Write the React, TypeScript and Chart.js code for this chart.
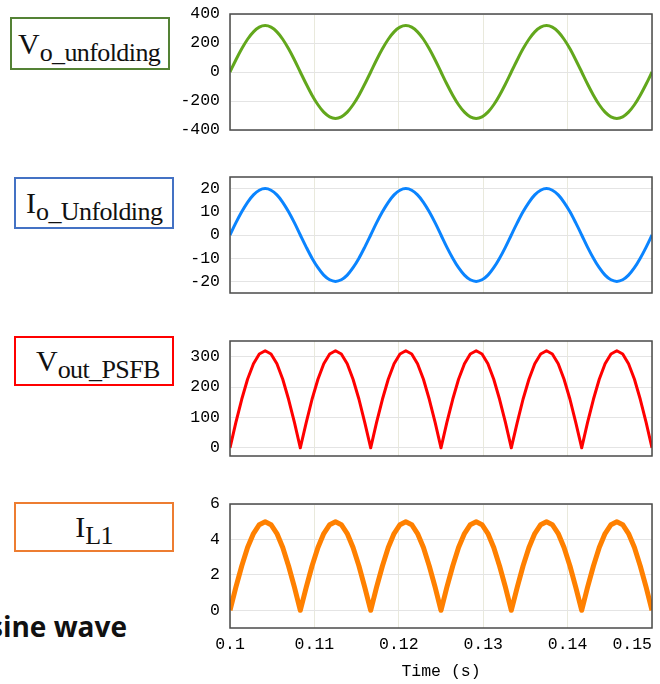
import React, { useEffect, useRef } from 'react';
import { Chart, registerables } from 'chart.js';

Chart.register(...registerables);

// ---------- data ----------
const TIME = [
  0.1, 0.10069, 0.10139, 0.10208, 0.10278, 0.10347, 0.10417, 0.10486, 0.10556, 0.10625, 0.10694, 0.10764,
  0.10833, 0.10903, 0.10972, 0.11042, 0.11111, 0.11181, 0.1125, 0.11319, 0.11389, 0.11458, 0.11528, 0.11597,
  0.11667, 0.11736, 0.11806, 0.11875, 0.11944, 0.12014, 0.12083, 0.12153, 0.12222, 0.12292, 0.12361, 0.12431,
  0.125, 0.12569, 0.12639, 0.12708, 0.12778, 0.12847, 0.12917, 0.12986, 0.13056, 0.13125, 0.13194, 0.13264,
  0.13333, 0.13403, 0.13472, 0.13542, 0.13611, 0.13681, 0.1375, 0.13819, 0.13889, 0.13958, 0.14028, 0.14097,
  0.14167, 0.14236, 0.14306, 0.14375, 0.14444, 0.14514, 0.14583, 0.14653, 0.14722, 0.14792, 0.14861, 0.14931,
  0.15,
];

const V_UNFOLDING = [
  0, 83, 160, 226, 277, 309, 320, 309, 277, 226, 160, 83, 0, -83, -160, -226, -277, -309, -320, -309, -277, -226, -160, -83,
  0, 83, 160, 226, 277, 309, 320, 309, 277, 226, 160, 83, 0, -83, -160, -226, -277, -309, -320, -309, -277, -226, -160, -83,
  0, 83, 160, 226, 277, 309, 320, 309, 277, 226, 160, 83, 0, -83, -160, -226, -277, -309, -320, -309, -277, -226, -160, -83,
  0,
];

const I_UNFOLDING = [
  0, 5.2, 10, 14.1, 17.3, 19.3, 20, 19.3, 17.3, 14.1, 10, 5.2, 0, -5.2, -10, -14.1, -17.3, -19.3, -20, -19.3, -17.3, -14.1, -10, -5.2,
  0, 5.2, 10, 14.1, 17.3, 19.3, 20, 19.3, 17.3, 14.1, 10, 5.2, 0, -5.2, -10, -14.1, -17.3, -19.3, -20, -19.3, -17.3, -14.1, -10, -5.2,
  0, 5.2, 10, 14.1, 17.3, 19.3, 20, 19.3, 17.3, 14.1, 10, 5.2, 0, -5.2, -10, -14.1, -17.3, -19.3, -20, -19.3, -17.3, -14.1, -10, -5.2,
  0,
];

const V_OUT_PSFB = [
  0, 83, 160, 226, 277, 309, 320, 309, 277, 226, 160, 83,
  0, 83, 160, 226, 277, 309, 320, 309, 277, 226, 160, 83,
  0, 83, 160, 226, 277, 309, 320, 309, 277, 226, 160, 83,
  0, 83, 160, 226, 277, 309, 320, 309, 277, 226, 160, 83,
  0, 83, 160, 226, 277, 309, 320, 309, 277, 226, 160, 83,
  0, 83, 160, 226, 277, 309, 320, 309, 277, 226, 160, 83,
  0,
];

const I_L1 = [
  0, 1.29, 2.5, 3.54, 4.33, 4.83, 5, 4.83, 4.33, 3.54, 2.5, 1.29,
  0, 1.29, 2.5, 3.54, 4.33, 4.83, 5, 4.83, 4.33, 3.54, 2.5, 1.29,
  0, 1.29, 2.5, 3.54, 4.33, 4.83, 5, 4.83, 4.33, 3.54, 2.5, 1.29,
  0, 1.29, 2.5, 3.54, 4.33, 4.83, 5, 4.83, 4.33, 3.54, 2.5, 1.29,
  0, 1.29, 2.5, 3.54, 4.33, 4.83, 5, 4.83, 4.33, 3.54, 2.5, 1.29,
  0, 1.29, 2.5, 3.54, 4.33, 4.83, 5, 4.83, 4.33, 3.54, 2.5, 1.29,
  0,
];

const X_TICKS = [0.1, 0.11, 0.12, 0.13, 0.14, 0.15];
const X_TICK_LABELS = ['0.1', '0.11', '0.12', '0.13', '0.14', '0.15'];
const X_TITLE = 'Time (s)';

const Y1_TICKS = [-400, -200, 0, 200, 400];
const Y2_TICKS = [-20, -10, 0, 10, 20];
const Y3_TICKS = [0, 100, 200, 300];
const Y4_TICKS = [0, 1, 2, 3, 4, 5, 6];
const Y4_LABELED = [0, 2, 4, 6];

// ---------- styling ----------
const MONO = '"Liberation Mono", "DejaVu Sans Mono", monospace';
const GRID_Y = '#e4e4e4';
const GRID_X = '#e9e9dc';

const framePlugin = {
  id: 'frame',
  afterDraw(chart: any) {
    const { ctx, chartArea: a } = chart;
    ctx.save();
    ctx.strokeStyle = '#4a4a4a';
    ctx.lineWidth = 1.5;
    ctx.strokeRect(a.left, a.top, a.right - a.left, a.bottom - a.top);
    ctx.restore();
  },
};

type PanelSpec = {
  values: number[];
  color: string;
  width: number;
  smooth: boolean;
  yMin: number;
  yMax: number;
  yTicks: number[];
  yLabeled?: number[];
  showX: boolean;
  padTop: number;
  padBottom: number;
};

function buildConfig(p: PanelSpec): any {
  const points = p.values.map((v, i) => ({ x: TIME[i], y: v }));
  return {
    type: 'line',
    data: {
      datasets: [
        {
          data: points,
          borderColor: p.color,
          borderWidth: p.width,
          pointRadius: 0,
          fill: false,
          tension: p.smooth ? 0.4 : 0,
          cubicInterpolationMode: p.smooth ? 'monotone' : 'default',
          borderJoinStyle: 'round',
        },
      ],
    },
    options: {
      responsive: false,
      animation: false,
      events: [],
      layout: { padding: { top: p.padTop, bottom: p.padBottom, left: 0, right: 8 } },
      plugins: { legend: { display: false }, tooltip: { enabled: false }, title: { display: false } },
      scales: {
        x: {
          type: 'linear',
          min: 0.1,
          max: 0.15,
          afterBuildTicks: (scale: any) => {
            scale.ticks = X_TICKS.map((v) => ({ value: v }));
          },
          afterFit: (scale: any) => {
            scale.paddingLeft = 0;
            scale.paddingRight = 0;
            scale.height = p.showX ? 56 : 0;
          },
          grid: { color: GRID_X, lineWidth: 1, drawTicks: false },
          border: { display: false },
          ticks: {
            display: p.showX,
            autoSkip: false,
            maxRotation: 0,
            minRotation: 0,
            padding: 7,
            color: '#000',
            font: { family: MONO, size: 16.5 },
            callback: (_v: any, i: number) => {
              const label = X_TICK_LABELS[i];
              // keep the last label inside the plot frame
              return i === X_TICK_LABELS.length - 1 ? label + '    ' : label;
            },
          },
          title: {
            display: p.showX,
            text: X_TITLE,
            color: '#000',
            font: { family: MONO, size: 16.5 },
            padding: { top: 0, bottom: 2 },
          },
        },
        y: {
          type: 'linear',
          min: p.yMin,
          max: p.yMax,
          afterBuildTicks: (scale: any) => {
            scale.ticks = p.yTicks.map((v) => ({ value: v }));
          },
          afterFit: (scale: any) => {
            scale.width = 55;
            scale.paddingTop = 0;
            scale.paddingBottom = 0;
          },
          grid: { color: GRID_Y, lineWidth: 1, drawTicks: false },
          border: { display: false },
          ticks: {
            padding: 10,
            color: '#000',
            font: { family: MONO, size: 16.5 },
            callback: (v: number) => {
              if (p.yLabeled && !p.yLabeled.includes(v)) return '';
              return String(v);
            },
          },
        },
      },
    },
    plugins: [framePlugin],
  };
}

function Panel({ spec, top, height }: { spec: PanelSpec; top: number; height: number }) {
  const ref = useRef<HTMLCanvasElement | null>(null);
  useEffect(() => {
    if (!ref.current) return;
    const chart = new Chart(ref.current, buildConfig(spec));
    return () => chart.destroy();
  }, []);
  return (
    <canvas
      ref={ref}
      width={485}
      height={height}
      style={{ position: 'absolute', left: 175, top, width: 485, height }}
    />
  );
}

function LabelBox(props: {
  left: number; top: number; width: number; height: number; color: string;
  main: string; sub: string; padLeft: number; center?: boolean;
}) {
  const { left, top, width, height, color, main, sub, padLeft, center } = props;
  return (
    <div
      style={{
        position: 'absolute', left, top, width, height, boxSizing: 'border-box',
        border: `2px solid ${color}`, background: '#fff',
        fontFamily: '"Liberation Serif", "DejaVu Serif", serif', color: '#111',
        lineHeight: `${height - 4}px`, whiteSpace: 'nowrap',
        paddingLeft: center ? 0 : padLeft, textAlign: center ? 'center' : 'left',
      }}
    >
      <span style={{ fontSize: 30 }}>{main}</span>
      <span style={{ fontSize: 26, letterSpacing: '-0.6px', position: 'relative', top: 7 }}>{sub}</span>
    </div>
  );
}

const P1: PanelSpec = { values: V_UNFOLDING, color: '#62A71C', width: 3, smooth: true, yMin: -400, yMax: 400, yTicks: Y1_TICKS, showX: false, padTop: 10, padBottom: 10 };
const P2: PanelSpec = { values: I_UNFOLDING, color: '#0A84FF', width: 3, smooth: true, yMin: -25, yMax: 25, yTicks: Y2_TICKS, showX: false, padTop: 10, padBottom: 10 };
const P3: PanelSpec = { values: V_OUT_PSFB, color: '#FF0000', width: 3, smooth: false, yMin: -27, yMax: 352, yTicks: Y3_TICKS, showX: false, padTop: 10, padBottom: 10 };
const P4: PanelSpec = { values: I_L1, color: '#FF8000', width: 5, smooth: false, yMin: -1, yMax: 6, yTicks: Y4_TICKS, yLabeled: Y4_LABELED, showX: true, padTop: 10, padBottom: 0 };

export default function App() {
  return (
    <div style={{ position: 'fixed', left: 0, top: 0, width: 660, height: 684, background: '#fff', overflow: 'hidden' }}>
      <LabelBox left={10} top={17} width={160} height={53} color="#548235" main="V" sub="o_unfolding" padLeft={6} />
      <LabelBox left={14} top={177} width={160} height={52} color="#4472C4" main="I" sub="o_Unfolding" padLeft={10} />
      <LabelBox left={14} top={336} width={160} height={50} color="#FF0000" main="V" sub="out_PSFB" padLeft={20} />
      <LabelBox left={14} top={502} width={160} height={50} color="#ED7D31" main="I" sub="L1" padLeft={0} center />
      <div
        style={{
          position: 'absolute', left: -120, top: 612, width: 247, textAlign: 'right',
          fontFamily: '"Open Sans", sans-serif', fontWeight: 700, fontSize: 28, lineHeight: '28px',
          color: '#111', whiteSpace: 'nowrap',
        }}
      >
        sine wave
      </div>
      <Panel spec={P1} top={4} height={136} />
      <Panel spec={P2} top={167} height={136} />
      <Panel spec={P3} top={331} height={135} />
      <Panel spec={P4} top={494} height={190} />
    </div>
  );
}
